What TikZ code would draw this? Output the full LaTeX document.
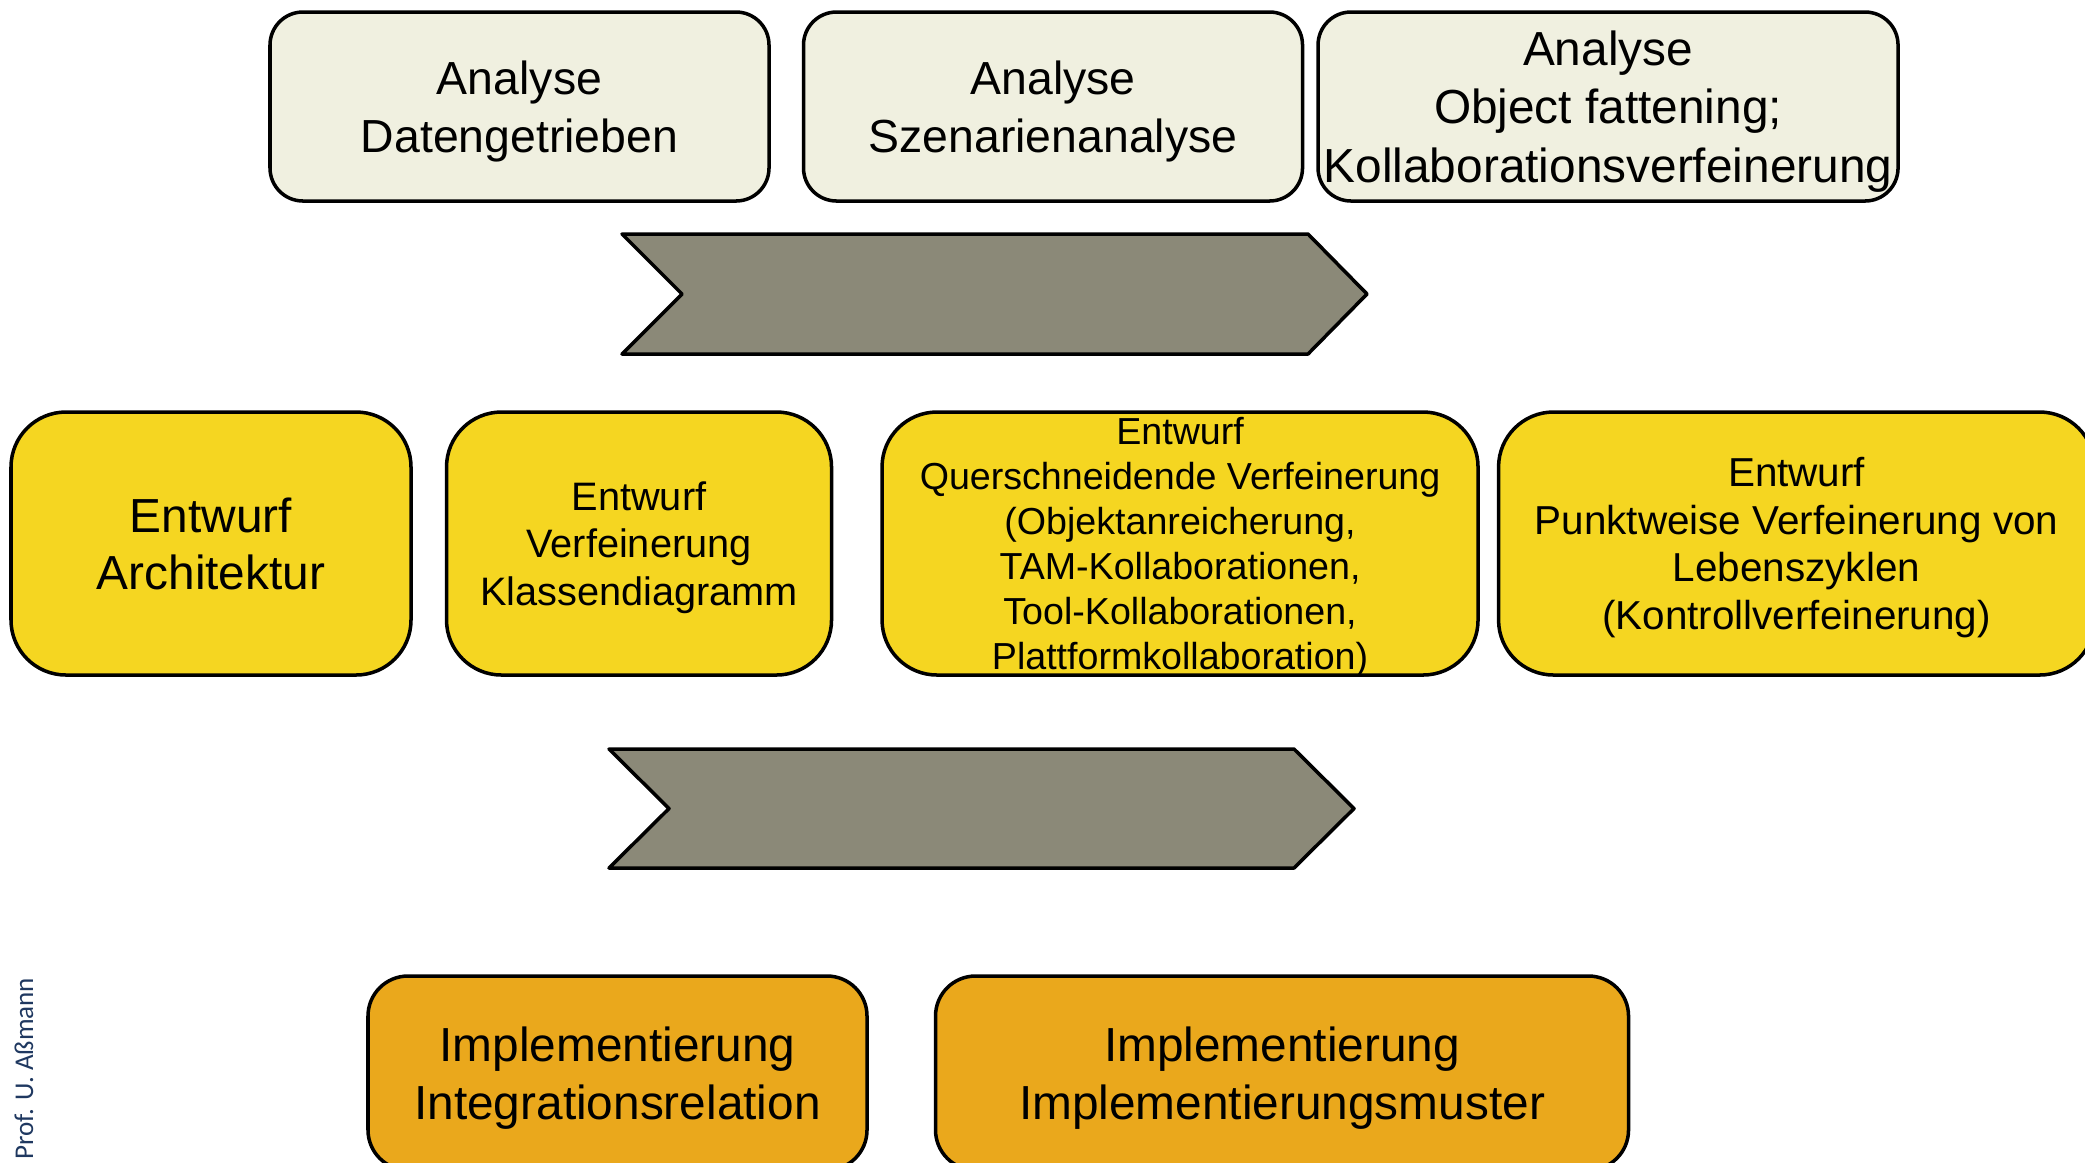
\documentclass[tikz,border=0pt]{standalone}
\usepackage{fontspec}
\setmainfont{Liberation Sans}
\newfontfamily\calibrifont{Carlito}
\usepackage{tikz}
\usetikzlibrary{positioning}

\definecolor{analysefill}{RGB}{240,240,224}
\definecolor{entwurffill}{RGB}{245,214,33}
\definecolor{implfill}{RGB}{234,168,28}
\definecolor{phasegray}{RGB}{139,137,120}
\definecolor{profblue}{RGB}{31,56,96}

\begin{document}
\begin{tikzpicture}[
    node distance=0.35cm,
    box/.style={rectangle, draw, line width=1pt, align=center, inner sep=0pt},
    analyse/.style={box, rounded corners=0.33cm, fill=analysefill,
                    minimum width=4.99cm, minimum height=1.89cm, text depth=-0.8pt,
                    font=\fontsize{13.2}{16.6}\selectfont},
    entwurf/.style={box, rounded corners=0.55cm, fill=entwurffill, text depth=-1.8pt,
                    minimum height=2.63cm, font=\fontsize{11.3}{13.5}\selectfont},
    impl/.style={box, rounded corners=0.4cm, fill=implfill, text depth=-0.4pt,
                 minimum height=1.94cm, font=\fontsize{13.6}{16.4}\selectfont},
    phase/.style={draw, line width=1pt, fill=phasegray, line join=round}
  ]
    \useasboundingbox (0,0) rectangle (20.85,-11.62);

    % Analyse
    \node[analyse] (datgetr) at (5.195,-1.065) {Analyse\\Datengetrieben};
    \node[analyse, right=0.31cm of datgetr] (szenario) {Analyse\\Szenarienanalyse};
    \node[analyse, right=0.12cm of szenario, minimum width=5.8cm,
          font=\fontsize{13.6}{16.6}\selectfont] (kollab)
      {Analyse\\Object fattening;\\Kollaborationsverfeinerung};

    \draw[phase] (6.22,-2.34) -- (13.08,-2.34) -- (13.67,-2.94) -- (13.08,-3.54)
      -- (6.22,-3.54) -- (6.82,-2.94) -- cycle;

    % Entwurf
    \node[entwurf, minimum width=4cm, font=\fontsize{13.6}{16.2}\selectfont]
      (archi) at (2.11,-5.435) {Entwurf\\Architektur};
    \node[entwurf, right=0.32cm of archi, minimum width=3.85cm] (klassen)
      {Entwurf\\Verfeinerung\\Klassendiagramm};
    \node[entwurf, right=0.47cm of klassen, minimum width=5.96cm,
          font=\fontsize{10.7}{12.8}\selectfont] (quer)
      {Entwurf\\Querschneidende Verfeinerung\\(Objektanreicherung,\\TAM-Kollaborationen,\\Tool-Kollaborationen,\\Plattformkollaboration)};
    \node[entwurf, right=0.17cm of quer, minimum width=5.96cm,
          font=\fontsize{11.5}{13.5}\selectfont] (punkt)
      {Entwurf\\Punktweise Verfeinerung von\\Lebenszyklen\\(Kontrollverfeinerung)};

    \draw[phase] (6.09,-7.49) -- (12.94,-7.49) -- (13.54,-8.085) -- (12.94,-8.68)
      -- (6.09,-8.68) -- (6.69,-8.085) -- cycle;

    % Implementierung
    \node[impl, minimum width=4.99cm] (integr) at (6.175,-10.73)
      {Implementierung\\Integrationsrelation};
    \node[impl, right=0.65cm of integr, minimum width=6.93cm] (muster)
      {Implementierung\\Implementierungsmuster};

    \node[rotate=90, font=\fontsize{7.7}{9}\calibrifont, text=profblue] (prof)
      at (0.24,-10.685) {Prof. U. Aßmann};
  \end{tikzpicture}
\end{document}
